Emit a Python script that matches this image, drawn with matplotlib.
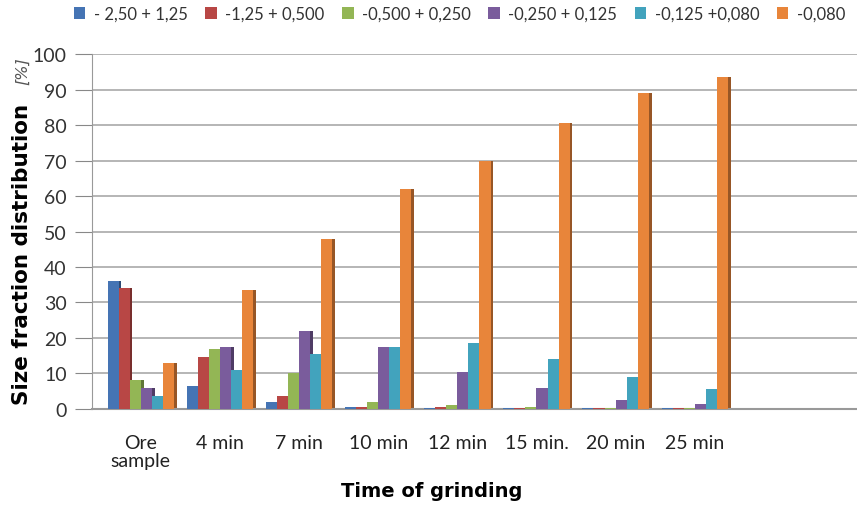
import numpy as np
import matplotlib
matplotlib.use("Agg")
import matplotlib.pyplot as plt
from matplotlib.colors import to_rgb

categories = ["Ore\nsample", "4 min", "7 min", "10 min", "12 min", "15 min.", "20 min", "25 min"]
series_names = ["- 2,50 + 1,25", "-1,25 + 0,500", "-0,500 + 0,250",
                "-0,250 + 0,125", "-0,125 +0,080", "-0,080"]

s_250_125 = [36, 6.5, 2, 0.5, 0.3, 0.2, 0.2, 0.2]
s_125_0500 = [34, 14.5, 3.5, 0.5, 0.4, 0.2, 0.2, 0.2]
s_0500_0250 = [8, 17, 10, 2, 1.2, 0.5, 0.3, 0.3]
s_0250_0125 = [6, 17.5, 22, 17.5, 10.5, 6, 2.5, 1.5]
s_0125_0080 = [3.5, 11, 15.5, 17.5, 18.5, 14, 9, 5.5]
s_0080 = [13, 33.5, 48, 62, 70, 80.5, 89, 93.5]

series = [s_250_125, s_125_0500, s_0500_0250, s_0250_0125, s_0125_0080, s_0080]
colors = ["#4574b4", "#b84745", "#93b655", "#7a5c9c", "#42a3bd", "#e8853a"]


def darker(c, f=0.65):
    r, g, b = to_rgb(c)
    return (r * f, g * f, b * f)


fig = plt.figure(figsize=(8.57, 5.06), dpi=100)
ax = fig.add_axes([0.107, 0.19, 0.893, 0.701])

x = np.arange(len(categories))
w = 0.14
offsets = (np.arange(len(series)) - 2.5) * w

for i, vals in enumerate(series):
    xs = x + offsets[i]
    # side face to fake the 3D look
    ax.bar(xs + w * 0.5, vals, width=w * 0.25, color=darker(colors[i]), align="edge",
           zorder=2)
    ax.bar(xs, vals, width=w, color=colors[i], label=series_names[i], zorder=3)

ax.set_ylim(0, 100)
ax.set_yticks(np.arange(0, 101, 10))
ax.set_xlim(-0.62, 9.05)
ax.set_xticks(x)
ax.set_xticklabels(categories, fontsize=14, color="#222222", family="Lato",
                   linespacing=1.05)
for lab in ax.get_yticklabels():
    lab.set_family("Lato")
ax.tick_params(axis="y", labelsize=14, labelcolor="#333333", color="#888888",
               length=12, pad=6)
ax.tick_params(axis="x", length=0, pad=18)
ax.yaxis.grid(True, color="#b0b0b0", linewidth=1.3, zorder=0)
ax.set_axisbelow(True)
for sp in ["top", "right"]:
    ax.spines[sp].set_visible(False)
ax.spines["left"].set_color("#999999")
ax.spines["bottom"].set_color("#999999")
ax.spines["bottom"].set_linewidth(1.5)

fig.text(0.504, 0.028, "Time of grinding", fontsize=14, fontweight="bold",
         ha="center", va="center")
fig.text(0.026, 0.2, "Size fraction distribution", rotation=90, fontsize=15.5,
         fontweight="bold", ha="center", va="bottom")
fig.text(0.026, 0.86, "[%]", rotation=90, fontsize=11.5, style="italic",
         color="#555555", ha="center", va="center")

leg = ax.legend(loc="upper left", bbox_to_anchor=(-0.03, 1.15), ncol=6, frameon=False,
                borderaxespad=0.0, borderpad=0.3,
                handlelength=0.7, handleheight=0.7, handletextpad=0.5,
                columnspacing=1.05, prop={"family": "Lato", "size": 12})
for t in leg.get_texts():
    t.set_color("#333333")

fig.savefig("out.png", dpi=100)
